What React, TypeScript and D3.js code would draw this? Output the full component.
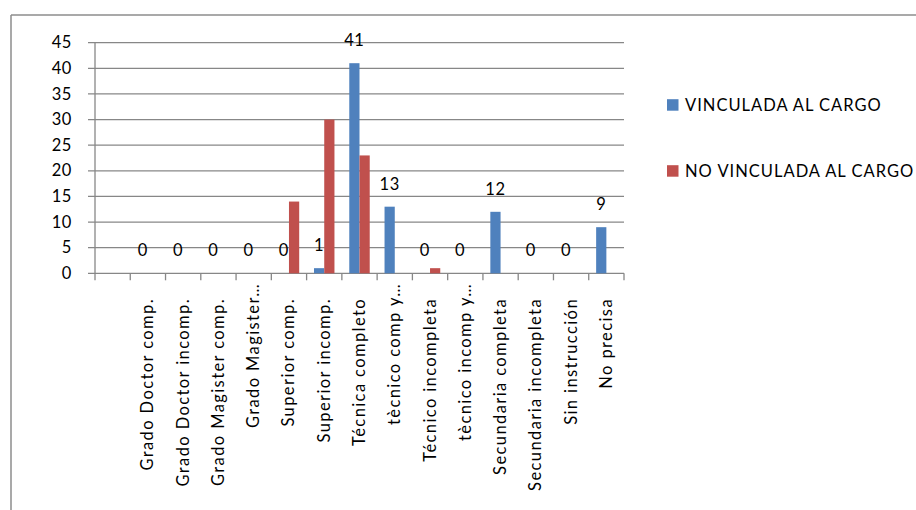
import React from "react";
import * as d3 from "d3";

// Education level categories (the first slot is an unnamed, empty category)
const categories: string[] = [
  "",
  "Grado Doctor comp.",
  "Grado Doctor incomp.",
  "Grado Magister comp.",
  "Grado Magister…",
  "Superior comp.",
  "Superior incomp.",
  "Técnica completo",
  "tècnico comp y…",
  "Técnico incompleta",
  "tècnico incomp y…",
  "Secundaria completa",
  "Secundaria incompleta",
  "Sin instrucción",
  "No precisa",
];

const seriesNames: string[] = ["VINCULADA AL CARGO", "NO VINCULADA AL CARGO"];
const vinculada: (number | null)[] = [null, 0, 0, 0, 0, 0, 1, 41, 13, 0, 0, 12, 0, 0, 9];
const noVinculada: (number | null)[] = [null, null, null, null, null, 14, 30, 23, null, 1, null, null, null, null, null];
const yTicks: number[] = [0, 5, 10, 15, 20, 25, 30, 35, 40, 45];

const W = 916;
const H = 510;
const FONT = "Lato, 'Open Sans', sans-serif";
const COLORS = ["#4F81BD", "#C0504D"];
const GRID = "#878787";

export default function App() {
  const plot = { left: 95, right: 624, top: 42.7, bottom: 273.3 };

  const x = d3.scaleBand<number>()
    .domain(d3.range(categories.length))
    .range([plot.left, plot.right])
    .paddingInner(0)
    .paddingOuter(0);

  const y = d3.scaleLinear().domain([0, 45]).range([plot.bottom, plot.top]);

  const bw = x.bandwidth();
  const barW = bw * 0.29;
  const series = [vinculada, noVinculada];

  return (
    <svg
      width={W}
      height={H}
      style={{ position: "absolute", left: 0, top: 0, background: "#fff" }}
      fontFamily={FONT}
    >
      {/* outer chart frame (top and left edges visible) */}
      <line x1={11} x2={W} y1={15} y2={15} stroke="#8c8c8c" strokeWidth={1.5} />
      <line x1={11} x2={11} y1={15} y2={H} stroke="#8c8c8c" strokeWidth={1.5} />

      {/* horizontal gridlines with left tick stubs */}
      {yTicks.map((t) => (
        <g key={t}>
          <line x1={plot.left - 7} x2={plot.right} y1={y(t)} y2={y(t)} stroke={GRID} strokeWidth={1.3} />
          <text x={72} y={y(t)} dy={5.6} textAnchor="end" fontSize={16.5} letterSpacing={0.6} fill="#000">
            {t}
          </text>
        </g>
      ))}

      {/* y axis */}
      <line x1={plot.left} x2={plot.left} y1={plot.top} y2={plot.bottom} stroke={GRID} strokeWidth={1.3} />

      {/* x axis ticks at category boundaries */}
      {d3.range(categories.length + 1).map((i) => {
        const xx = plot.left + i * bw;
        return <line key={i} x1={xx} x2={xx} y1={plot.bottom} y2={plot.bottom + 7} stroke={GRID} strokeWidth={1.3} />;
      })}

      {/* bars */}
      {series.map((vals, s) =>
        vals.map((v, i) =>
          v === null ? null : (
            <rect
              key={`${s}-${i}`}
              x={(x(i) as number) + bw / 2 - barW + s * barW}
              y={y(v)}
              width={barW}
              height={plot.bottom - y(v)}
              fill={COLORS[s]}
            />
          )
        )
      )}

      {/* data labels for the first series */}
      {vinculada.map((v, i) =>
        v === null ? null : (
          <text
            key={`lbl-${i}`}
            x={(x(i) as number) + bw / 2 - barW / 2}
            y={y(v) - 17}
            textAnchor="middle"
            fontSize={16.5}
            letterSpacing={0.6}
            fill="#000"
          >
            {v}
          </text>
        )
      )}

      {/* rotated category labels */}
      {categories.map((c, i) => {
        const cx = (x(i) as number) + bw / 2;
        const yEnd = c.endsWith("…") ? 283 : 298;
        return (
          <text
            key={`cat-${i}`}
            transform={`translate(${cx + 5.5},${yEnd}) rotate(-90)`}
            textAnchor="end"
            fontSize={16.5}
            letterSpacing={1.4}
            fill="#000"
          >
            {c}
          </text>
        );
      })}

      {/* legend */}
      {seriesNames.map((n, i) => {
        const ly = 105 + i * 66;
        return (
          <g key={n}>
            <rect x={667} y={ly - 5.8} width={11.5} height={11.5} fill={COLORS[i]} />
            <text x={685} y={ly + 5.8} fontSize={16.5} letterSpacing={1.0} fill="#000">
              {n}
            </text>
          </g>
        );
      })}
    </svg>
  );
}
